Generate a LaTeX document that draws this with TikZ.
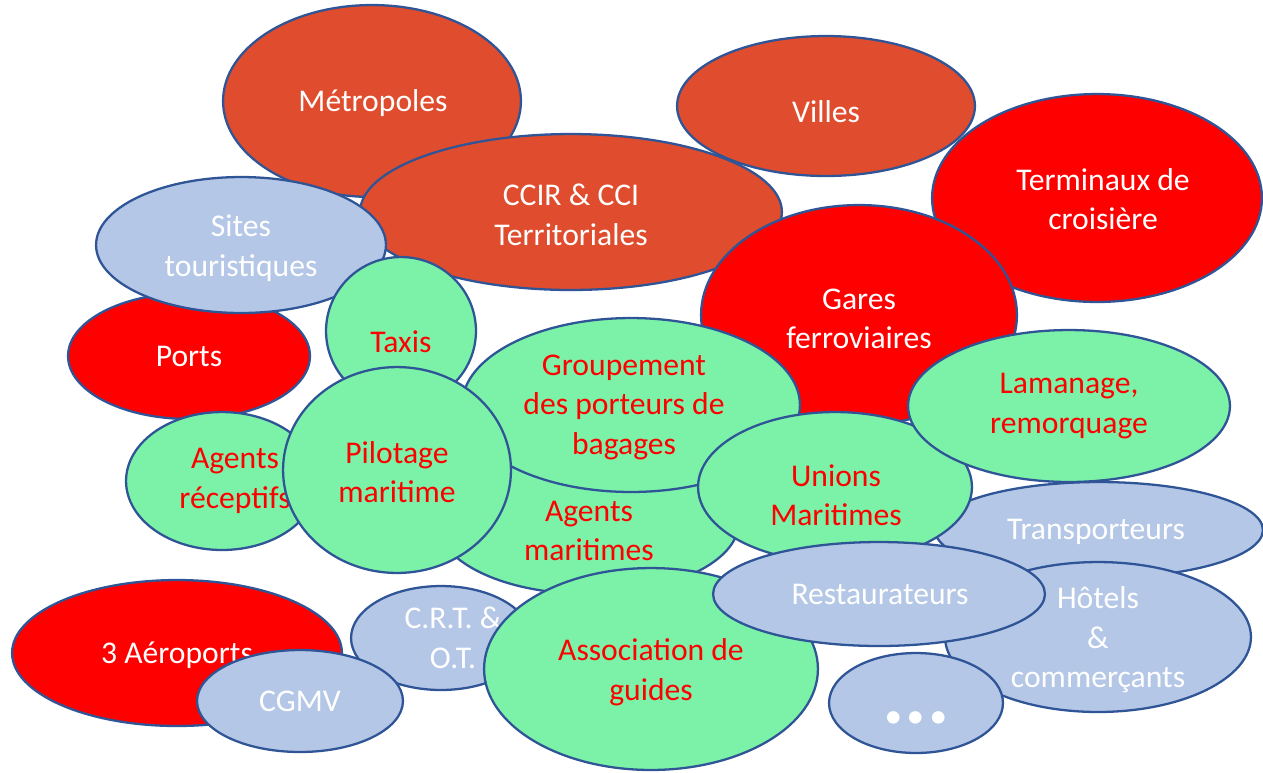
\documentclass[tikz,border=0pt]{standalone}
\usepackage{fontspec}
\setmainfont{Carlito}
\usetikzlibrary{shapes.geometric}
\definecolor{bordure}{HTML}{2F5597}
\definecolor{brique}{HTML}{E04C2E}
\definecolor{rouge}{HTML}{FF0000}
\definecolor{bleu}{HTML}{B4C7E7}
\definecolor{vert}{HTML}{7CF1A8}
\tikzset{
	bulle/.style 2 args={ellipse, draw=bordure, line width=1.3pt, inner sep=0pt,
		minimum width=#1*0.04cm, minimum height=#2*0.04cm}, % demi-axes donnes en px
	institution/.style={fill=brique}, % collectivites et chambres
	infra/.style={fill=rouge}, % ports, gares, aeroports
	service/.style={fill=bleu}, % acteurs du tourisme
	metier/.style={fill=vert}, % metiers portuaires
	txt/.style={align=center, inner sep=0pt, font=\fontsize{18}{22.5}\selectfont}, % texte des bulles
	txtblanc/.style={txt, text=white},
	txtrouge/.style={txt, text=rouge}
}

\begin{document}
\begin{tikzpicture}[x=0.02cm, y=-0.02cm]
	\useasboundingbox (0,0) rectangle (1263,772);
	% fond : collectivites
	\node[bulle={149}{96}, institution] (metro) at (372,101) {};
	\node[txtblanc] (metro-t) at ([shift={(1,2)}]metro.center) {Métropoles};
	\node[bulle={149}{70}, institution] (villes) at (826,106) {};
	\node[txtblanc] (villes-t) at ([shift={(0,6)}]villes.center) {Villes};
	\node[bulle={211}{78}, institution] (ccir) at (571,212) {};
	\node[txtblanc] (ccir-t) at ([shift={(0,3)}]ccir.center) {CCIR \& CCI\\Territoriales};
	\node[bulle={165}{104}, infra] (croisiere) at (1097,198) {};
	\node[txtblanc] (croisiere-t) at ([shift={(6,1)}]croisiere.center) {Terminaux de\\croisière};
	\node[bulle={158}{110}, infra] (gares) at (859,315) {};
	\node[txtblanc] (gares-t) at ([shift={(0,4)}]gares.center) {Gares\\ferroviaires};
	\node[bulle={121}{63}, infra] (ports) at (189,356) {};
	\node[txtblanc] (ports-t) at (ports.center) {Ports};
	\node[bulle={145}{68}, service] (sites) at (241,245) {};
	\node[txtblanc] (sites-t) at ([shift={(0,3)}]sites.center) {Sites\\touristiques};
	% milieu : metiers
	\node[bulle={151}{72}, metier] (agmar) at (588,522) {};
	\node[txtrouge] (agmar-t) at ([shift={(1,9)}]agmar.center) {Agents\\maritimes};
	\node[bulle={169}{87}, metier] (bagages) at (631,405) {};
	\node[txtrouge] (bagages-t) at ([shift={(-7,2)}]bagages.center) {Groupement\\des porteurs de\\bagages};
	\node[bulle={75}{74}, metier] (taxis) at (401,331) {};
	\node[txtrouge] (taxis-t) at ([shift={(0,11)}]taxis.center) {Taxis};
	\node[bulle={96}{69}, metier] (recep) at (222,481) {};
	\node[txtrouge] (recep-t) at ([shift={(13,0)}]recep.center) {Agents\\réceptifs};
	\node[bulle={114}{103}, metier] (pilot) at (397,470) {};
	\node[txtrouge] (pilot-t) at ([shift={(0,2)}]pilot.center) {Pilotage\\maritime};
	\node[bulle={164}{48}, service] (transp) at (1099,530) {};
	\node[txtblanc] (transp-t) at ([shift={(-3,2)}]transp.center) {Transporteurs};
	\node[bulle={137}{75}, metier] (unions) at (835,487) {};
	\node[txtrouge] (unions-t) at ([shift={(1,8)}]unions.center) {Unions\\Maritimes};
	\node[bulle={161}{76}, metier] (lamanage) at (1069,406) {};
	\node[txtrouge] (lamanage-t) at (lamanage.center) {Lamanage,\\remorquage};
	% bas : tourisme et aeroports
	\node[bulle={153}{75}, service] (hotels) at (1098,637) {};
	\node[txtblanc] (hotels-t) at ([shift={(0,3)}]hotels.center) {Hôtels\\\&\\commerçants};
	\node[bulle={87}{50}, service] (autres) at (916,703) {};
	\node[txtblanc] (autres-t) at ([shift={(0,15)}]autres.center) {\fontsize{48}{48}\selectfont\bfseries...};
	\node[bulle={90}{52}, service] (crt) at (441,638) {};
	\node[txtblanc] (crt-t) at ([shift={(12,0)}]crt.center) {C.R.T. \&\\O.T.};
	\node[bulle={167}{101}, metier] (guides) at (651,669) {};
	\node[txtrouge] (guides-t) at ([shift={(0,3)}]guides.center) {Association de\\guides};
	\node[bulle={166}{52}, service] (resto) at (879,594) {};
	\node[txtblanc] (resto-t) at ([shift={(1,0)}]resto.center) {Restaurateurs};
	\node[bulle={165}{73}, infra] (aero) at (177,653) {};
	\node[txtblanc] (aero-t) at ([shift={(0,2)}]aero.center) {3 Aéroports};
	\node[bulle={103}{51}, service] (cgmv) at (300,701) {};
	\node[txtblanc] (cgmv-t) at (cgmv.center) {CGMV};
\end{tikzpicture}
\end{document}
